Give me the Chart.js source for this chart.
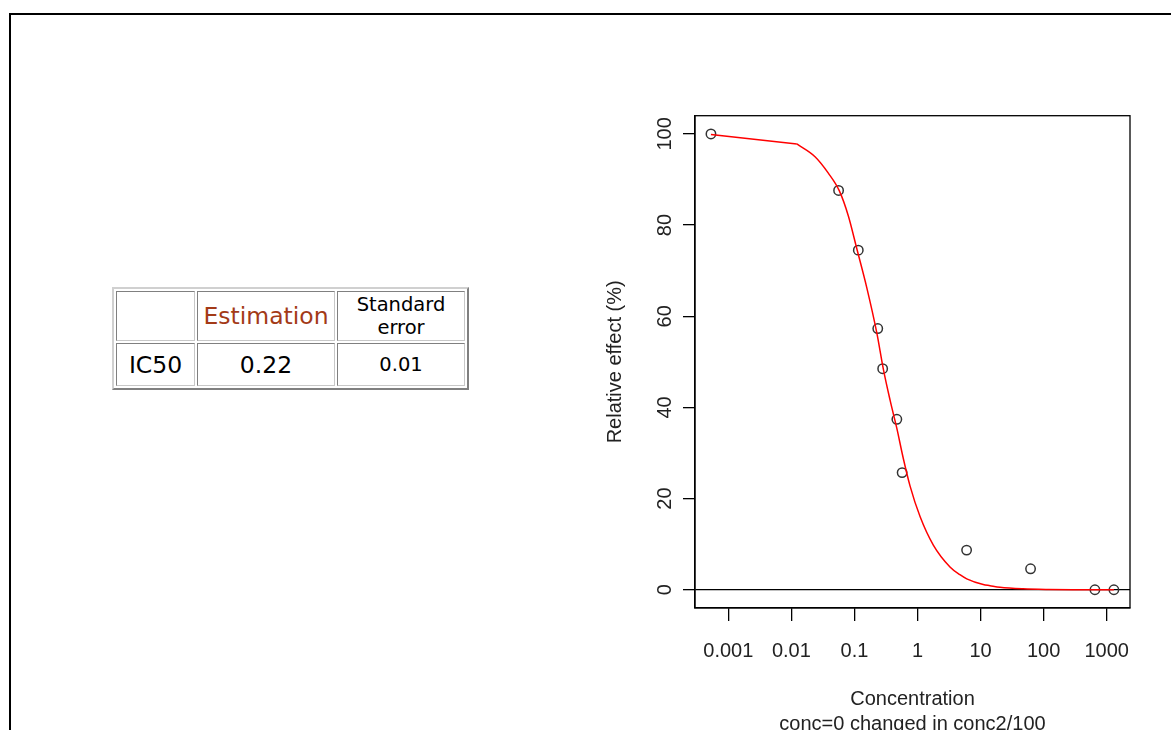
<!DOCTYPE html>
<html>
<head>
<meta charset="utf-8">
<script src="https://cdn.jsdelivr.net/npm/chart.js@4/dist/chart.umd.min.js"></script>
<style>
  html, body { margin: 0; padding: 0; background: #fff; overflow: hidden; }
  .frame { position: absolute; left: 9px; top: 13px; width: 1250px; height: 800px; border: 2px solid #000; }
  table.est {
    position: absolute; left: 112px; top: 287px;
    border-collapse: separate; border-spacing: 2px;
    border: 2px solid; border-color: #d0d0d0 #808080 #808080 #d0d0d0;
    font-family: "DejaVu Sans", Verdana, sans-serif; color: #000;
  }
  table.est td {
    box-sizing: border-box; padding: 0; text-align: center; vertical-align: middle;
    border: 1px solid; border-color: #808080 #c8c8c8 #c8c8c8 #808080;
  }
  .big { font-size: 23.5px; }
  .small { font-size: 19.5px; line-height: 23.4px; }
  .red { color: #a33a17; }
  #chart { position: absolute; left: 590px; top: 90px; }
</style>
</head>
<body>
<div class="frame"></div>

<table class="est">
  <tr style="height:50px">
    <td style="width:79px;height:50px"></td>
    <td class="big red" style="width:138px">Estimation</td>
    <td class="small" style="width:128px">Standard<br>error</td>
  </tr>
  <tr style="height:43px">
    <td class="big" style="height:43px">IC50</td>
    <td class="big">0.22</td>
    <td class="small">0.01</td>
  </tr>
</table>

<canvas id="chart" width="581" height="660"></canvas>

<script>
// observed points
const obsConc = [0.00053, 0.056, 0.115, 0.234, 0.28, 0.47, 0.57, 6.0, 62, 650, 1300];
const obsEffect = [100, 87.6, 74.5, 57.3, 48.5, 37.4, 25.7, 8.7, 4.6, 0, 0];

// fitted curve (first segment is a straight join from conc=0)
const fitConc = [0.00053, 0.0122, 0.0237, 0.0385, 0.0576, 0.080, 0.109, 0.156, 0.225, 0.287,
  0.367, 0.468, 0.595, 0.760, 1.10, 1.78, 3.27, 4.7, 6.03, 11.0, 14.1, 20.3, 47, 120, 292, 1300];
const fitEffect = [99.9, 97.8, 95.0, 91.4, 87.5, 82.0, 74.8, 66.4, 56.5, 48.4,
  41.6, 35.5, 28.8, 22.8, 16.0, 9.8, 5.0, 3.3, 2.4, 1.15, 0.9, 0.55, 0.2, 0.05, 0, 0];

// axes
const xTicks = [0.001, 0.01, 0.1, 1, 10, 100, 1000];
const xTickLabels = ["0.001", "0.01", "0.1", "1", "10", "100", "1000"];
const yTicks = [0, 20, 40, 60, 80, 100];
const xTitle = ["Concentration", "conc=0 changed in conc2/100"];
const yTitle = "Relative effect (%)";

const textColor = "#222";
const rFont = { family: "'Liberation Sans', Arial, sans-serif", size: 20 };

const toPts = (xs, ys) => xs.map((x, i) => ({ x, y: ys[i] }));

// top + right sides of the R box
const boxPlugin = {
  id: "box",
  afterDraw(chart) {
    const { ctx, chartArea: a } = chart;
    ctx.save();
    ctx.strokeStyle = "#000";
    ctx.lineWidth = 1.3;
    ctx.strokeRect(a.left, a.top, a.right - a.left, a.bottom - a.top);
    ctx.restore();
  }
};

const redLine = { showLine: true, borderColor: "#ff0000", borderWidth: 1.5, pointRadius: 0, fill: false };

new Chart(document.getElementById("chart"), {
  type: "scatter",
  data: {
    datasets: [
      { ...redLine, data: toPts(fitConc.slice(0, 2), fitEffect.slice(0, 2)), tension: 0 },
      { ...redLine, data: toPts(fitConc.slice(1), fitEffect.slice(1)), cubicInterpolationMode: "monotone" },
      {
        data: toPts(obsConc, obsEffect),
        pointStyle: "circle",
        pointRadius: 4.7,
        pointBorderWidth: 1.5,
        pointBorderColor: "#333",
        pointBackgroundColor: "rgba(0,0,0,0)",
      },
    ],
  },
  options: {
    responsive: false,
    animation: false,
    devicePixelRatio: 1,
    layout: { padding: { left: 0, right: 41, top: 25.7, bottom: 0 } },
    plugins: { legend: { display: false }, tooltip: { enabled: false } },
    scales: {
      x: {
        type: "logarithmic",
        min: 0.000296,
        max: 2340,
        afterBuildTicks: (s) => { s.ticks = xTicks.map((v) => ({ value: v, major: false })); },
        afterFit: (s) => { s.height = 142; },
        ticks: {
          autoSkip: false, maxRotation: 0, minRotation: 0, padding: 18,
          color: textColor, font: rFont,
          callback: (v, i) => xTickLabels[i],
        },
        grid: { drawOnChartArea: false, tickLength: 13, tickColor: "#000", lineWidth: 1.3 },
        border: { display: true, color: "#000", width: 1.3 },
        title: {
          display: true, text: xTitle, color: textColor,
          font: { ...rFont, lineHeight: 1.225 },
          padding: { top: 0, bottom: 13.75 },
        },
      },
      y: {
        min: -4,
        max: 104,
        afterBuildTicks: (s) => { s.ticks = yTicks.map((v) => ({ value: v })); },
        afterFit: (s) => { s.width = 105; },
        ticks: {
          minRotation: 90, maxRotation: 90, crossAlign: "center", padding: 1,
          color: textColor, font: rFont,
        },
        grid: {
          tickLength: 12, tickColor: "#000", lineWidth: 1.3,
          color: (c) => (c.tick && c.tick.value === 0 ? "#000" : "rgba(0,0,0,0)"),
        },
        border: { display: true, color: "#000", width: 1.3 },
        title: {
          display: true, text: yTitle, color: textColor, font: rFont,
          padding: { top: 13, bottom: 0 },
        },
      },
    },
  },
  plugins: [boxPlugin],
});
</script>
</body>
</html>
